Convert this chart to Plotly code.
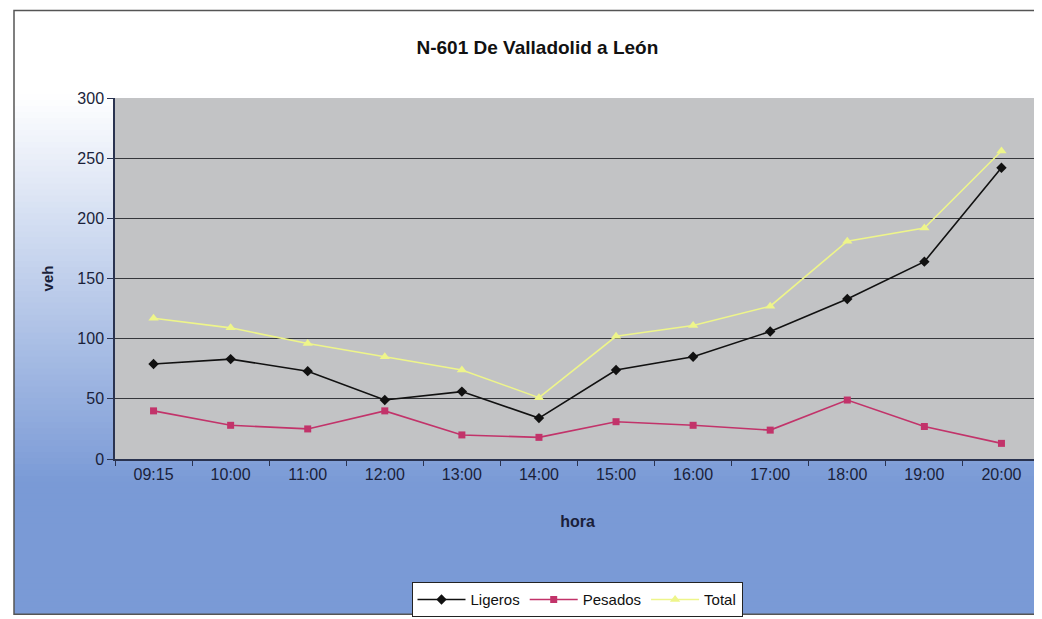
import plotly.graph_objects as go

horas = ["09:15", "10:00", "11:00", "12:00", "13:00", "14:00",
         "15:00", "16:00", "17:00", "18:00", "19:00", "20:00"]
ligeros = [79, 83, 73, 49, 56, 34, 74, 85, 106, 133, 164, 242]
pesados = [40, 28, 25, 40, 20, 18, 31, 28, 24, 49, 27, 13]
total = [117, 109, 96, 85, 74, 51, 102, 111, 127, 181, 192, 256]

FONT = "Liberation Sans, Arial, sans-serif"
TXT = "#1a1f3a"

# the page adds an 8px body margin, so the figure is laid out 8px smaller
OFF = 8
W, H = 1042 - OFF, 619 - OFF
ML, MR, MT, MB = 115 - OFF, 2, 98 - OFF, 158
PW, PH = W - ML - MR, H - MT - MB


def px_x(x):
    return (x - OFF - ML) / PW


def px_y(y):
    return (H - MB - (y - OFF)) / PH


fig = go.Figure()
fig.add_trace(go.Scatter(x=horas, y=ligeros, name="Ligeros", mode="lines+markers",
                         line=dict(color="#111111", width=1.6),
                         marker=dict(symbol="diamond", size=8, color="#111111")))
fig.add_trace(go.Scatter(x=horas, y=pesados, name="Pesados", mode="lines+markers",
                         line=dict(color="#c2336a", width=1.6),
                         marker=dict(symbol="square", size=7, color="#c2336a")))
fig.add_trace(go.Scatter(x=horas, y=total, name="Total", mode="lines+markers",
                         line=dict(color="#eef58a", width=1.6),
                         marker=dict(symbol="triangle-up", size=9, color="#eef58a")))

# background gradient (white -> blue) inside the outer frame, as overlapping strips
shapes = []
top_c = (255, 255, 255)
bot_c = (122, 154, 214)
step = 6
for ypix in range(10, 617, step):
    f = max(0.0, min(1.0, (ypix + step / 2 - 95) / 390))
    c = tuple(int(round(top_c[k] + (bot_c[k] - top_c[k]) * f)) for k in range(3))
    shapes.append(dict(type="rect", xref="paper", yref="paper", layer="below",
                       x0=px_x(14), x1=px_x(1042),
                       y0=px_y(617), y1=px_y(ypix),
                       line=dict(width=0), fillcolor="rgb(%d,%d,%d)" % c))
# plot area background (above gradient)
shapes.append(dict(type="rect", xref="paper", yref="paper", layer="below",
                   x0=0, x1=1, y0=0, y1=1, line=dict(width=0), fillcolor="#c2c3c5"))
# outer frame
shapes.append(dict(type="rect", xref="paper", yref="paper", layer="above",
                   x0=px_x(14), x1=px_x(1045), y0=px_y(617), y1=px_y(10),
                   line=dict(color="#555555", width=1.5), fillcolor="rgba(0,0,0,0)"))
fig.update_layout(shapes=shapes)

fig.update_layout(
    width=W, height=H,
    margin=dict(l=ML, r=MR, t=MT, b=MB),
    paper_bgcolor="white",
    plot_bgcolor="rgba(0,0,0,0)",
    font=dict(family=FONT, size=14, color=TXT),
    title=dict(text="<b>N-601 De Valladolid a León</b>", x=0.512, xanchor="center",
               y=1 - (47 - OFF) / H, yanchor="middle", font=dict(size=19, color="#111111")),
    xaxis=dict(type="category", range=[-0.5, 11.5], showgrid=False,
               showline=True, linecolor="#2a3350", linewidth=1.5,
               ticks="outside", tickson="boundaries", ticklen=5, tickcolor="#2a3350",
               tickfont=dict(size=16, color=TXT),
               title=dict(text="<b>hora</b>", font=dict(size=16, color=TXT), standoff=34)),
    yaxis=dict(range=[0, 300], dtick=50, showgrid=True, gridcolor="#35373c", gridwidth=1.4,
               showline=True, linecolor="#2a3350", linewidth=1.5,
               ticks="outside", ticklen=6, tickcolor="#2a3350", zeroline=False,
               tickfont=dict(size=16, color=TXT),
               title=dict(text="<b>veh</b>", font=dict(size=15, color=TXT), standoff=20)),
    legend=dict(orientation="h", x=px_x(577), xanchor="center", y=px_y(585), yanchor="top",
                bgcolor="white", bordercolor="#222222", borderwidth=1,
                font=dict(size=15, color="#111111"), itemwidth=48),
    showlegend=True,
)

fig.write_html("out.html")
